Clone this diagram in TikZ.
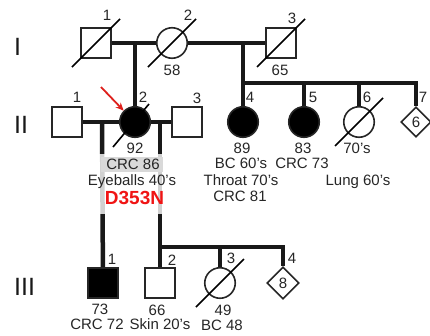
\documentclass[tikz,border=0pt]{standalone}
\usepackage{fontspec}
\setmainfont{Liberation Sans}
\usetikzlibrary{arrows.meta,shapes.geometric}
\definecolor{probandred}{RGB}{222,32,28}
\definecolor{variantred}{RGB}{240,20,20}
\tikzset{person/.style={draw=black!85,line width=1.6pt,inner sep=0pt,minimum size=30.5pt,fill=white},
 male/.style={person,rectangle},female/.style={person,circle},
 unknown/.style={person,diamond,minimum size=30pt,num},
 affected/.style={fill=black},
 rel/.style={line width=4.5pt,black!90},dead/.style={line width=1.6pt},
 proband/.style={-{Stealth[length=8pt,width=7pt]},probandred,line width=1.8pt},
 num/.style={font=\fontsize{15}{16}\selectfont,text=black!85,inner sep=0pt,text height=10.8pt,text depth=0pt},
 gen/.style={font=\fontsize{25}{26}\selectfont,text=black!90,anchor=west,inner sep=0pt,text height=18pt,text depth=0pt}}

\begin{document}
\begin{tikzpicture}[x=1pt,y=-1pt]
\useasboundingbox (0,0) rectangle (430,335);
\node[gen] (gI) at (14,46) {I};
\node[gen] (gII) at (14,124) {II};
\node[gen] (gIII) at (14,286) {III};
% individuals
\node[male] (I1) at (96,43) {};
\node[female] (I2) at (172,43) {};
\node[male] (I3) at (281,43) {};
\node[male] (II1) at (67,122) {};
\node[female,affected] (II2) at (135,122) {};
\node[male] (II3) at (187,122) {};
\node[female,affected] (II4) at (243,122) {};
\node[female,affected] (II5) at (304,122) {};
\node[female] (II6) at (359,122) {};
\node[unknown] (II7) at (416,122) {6};
\node[male,affected] (III1) at (103,283) {};
\node[male] (III2) at (160,283) {};
\node[female] (III3) at (220,283) {};
\node[unknown,minimum size=32pt] (III4) at (283,283) {8};
% lines of descent
\coordinate (m1) at (135,43);
\coordinate (m2) at (243,43);
\coordinate (s1) at (243,83);
\coordinate (m3) at (102,122);
\coordinate (m4) at (160,122);
\coordinate (s3) at (160,247);
\draw[rel] (I1) -- (I2) (I2) -- (I3) (II1) -- (II2) (II2) -- (II3);
\draw[rel] (m1) -- (II2);
\draw[rel] (m2) -- (II4);
\draw[rel] (s1) -| (II7);
\foreach \c in {II5,II6} \draw[rel] (\c |- s1) -- (\c);
\draw[rel] (m3) -- (III1);
\draw[rel] (m4) -- (III2);
\draw[rel] (s3) -| (III4);
\draw[rel] (III3 |- s3) -- (III3);
\foreach \p in {I1,I2,I3,II6,III3}
 \draw[dead] ([shift={(-24,24)}]\p.center) -- ([shift={(24,-24)}]\p.center);
\draw[dead] ([shift={(-22,25)}]II2.center) -- ([shift={(14,-18)}]II2.center);
\coordinate (pointer) at (101,87);
\draw[proband] (pointer) -- (II2.north west);
\fill[white,opacity=.8] (97,154) rectangle (168,214);
\fill[black!15] (101,157) rectangle (163,172);
% labels
\foreach \n/\t/\x/\y in {a/1/107/15,b/2/188/15,c/3/292/18,d/58/172/70,e/65/280/70,
 f/1/77/97,g/2/143/97,h/3/197/98,i/4/250/97,j/5/313/97,k/6/367/97,l/7/423/97,
 m/92/135/148,n/89/242/148,o/83/303/148,p/70's/357/148,
 q/CRC 86/133/164,r/Eyeballs 40's/132/180,s/BC 60's/241/163,t/Throat 70's/241/180,
 u/CRC 81/240/196,v/CRC 73/302/163,w/Lung 60's/358/180,
 x/1/112/259,y/2/172/260,z/3/231/258,aa/4/292/258,
 bb/73/100/309,cc/66/157/310,dd/49/223/310,
 ee/CRC 72/97/324,ff/Skin 20's/160/324,gg/BC 48/222/325}
 \node[num] (lab\n) at (\x,\y) {\t};
\node[num,font=\bfseries\fontsize{19}{20}\selectfont,text=variantred,text height=13.6pt] (variant) at (134.5,198) {D353N};
\end{tikzpicture}
\end{document}
